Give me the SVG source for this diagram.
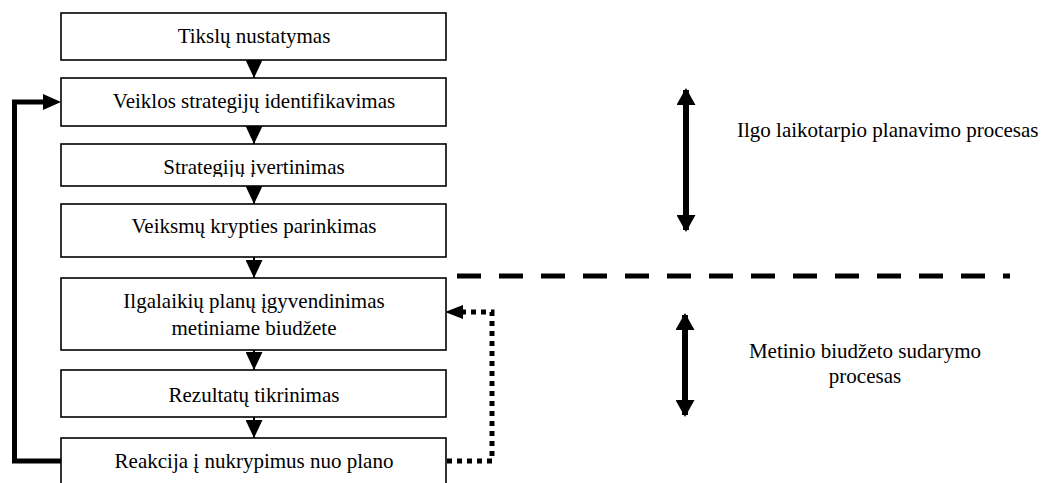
<svg xmlns="http://www.w3.org/2000/svg" width="1044" height="483" viewBox="0 0 1044 483">
<style>
.box{fill:#fff;stroke:#000;stroke-width:1.6}
.flow{stroke:#000;stroke-width:2;fill:none;marker-end:url(#tri)}
.dbl{stroke:#000;stroke-width:6;fill:none;marker-start:url(#big);marker-end:url(#big)}
</style>
<defs>
<marker id="tri" markerUnits="userSpaceOnUse" viewBox="0 0 18 17" refX="18" refY="8.5" markerWidth="18" markerHeight="17" orient="auto"><path d="M0,0 L18,8.5 L0,17 Z" fill="#000"/></marker>
<marker id="big" markerUnits="userSpaceOnUse" viewBox="0 0 17 19" refX="15" refY="9.5" markerWidth="17" markerHeight="19" orient="auto-start-reverse"><path d="M0,0 L17,9.5 L0,19 Z" fill="#000"/></marker>
<clipPath id="c3"><rect x="61" y="144" width="385" height="33"/></clipPath>
</defs>
<rect width="1044" height="483" fill="#fff"/>
<g id="connectors">
<line class="flow" x1="254" y1="60" x2="254" y2="78"/>
<line class="flow" x1="254" y1="126" x2="254" y2="144"/>
<line class="flow" x1="254" y1="186" x2="254" y2="204"/>
<line class="flow" x1="254" y1="257" x2="254" y2="278"/>
<line class="flow" x1="254" y1="350" x2="254" y2="370"/>
<line class="flow" x1="254" y1="417" x2="254" y2="438"/>
<path d="M61,461 H14.5 V102 H43" fill="none" stroke="#000" stroke-width="5"/>
<path d="M43,94 L61,102 L43,110 Z" fill="#000"/>
<path d="M447,461 H492 V312 H462" fill="none" stroke="#000" stroke-width="5" stroke-dasharray="5 5"/>
<path d="M463,305 L445,312 L463,319 Z" fill="#000"/>
<line x1="457" y1="276" x2="1010" y2="276" stroke="#000" stroke-width="5" stroke-dasharray="24 18"/>
<line class="dbl" x1="686" y1="90" x2="686" y2="230"/>
<line class="dbl" x1="685" y1="315" x2="685" y2="415"/>
</g>
<g font-family="'Liberation Serif', 'Times New Roman', serif" font-size="21" fill="#000" text-anchor="middle">
<g id="n1"><rect class="box" x="61" y="13" width="385" height="47"/><text x="254" y="43">Tikslų nustatymas</text></g>
<g id="n2"><rect class="box" x="61" y="78" width="385" height="48"/><text x="254" y="108">Veiklos strategijų identifikavimas</text></g>
<g id="n3"><rect class="box" x="61" y="144" width="385" height="42"/><text x="254" y="174" clip-path="url(#c3)">Strategijų įvertinimas</text></g>
<g id="n4"><rect class="box" x="61" y="204" width="385" height="53"/><text x="254" y="233">Veiksmų krypties parinkimas</text></g>
<g id="n5"><rect class="box" x="61" y="278" width="385" height="72"/><text x="254" y="308">Ilgalaikių planų įgyvendinimas</text><text x="254" y="335">metiniame biudžete</text></g>
<g id="n6"><rect class="box" x="61" y="370" width="385" height="47"/><text x="254" y="402">Rezultatų tikrinimas</text></g>
<g id="n7"><rect class="box" x="61" y="438" width="385" height="55"/><text x="254" y="468">Reakcija į nukrypimus nuo plano</text></g>
<g id="l1"><text x="737" y="137" text-anchor="start">Ilgo laikotarpio planavimo procesas</text></g>
<g id="l2"><text x="865" y="358">Metinio biudžeto sudarymo</text><text x="865" y="383">procesas</text></g>
</g>
</svg>
